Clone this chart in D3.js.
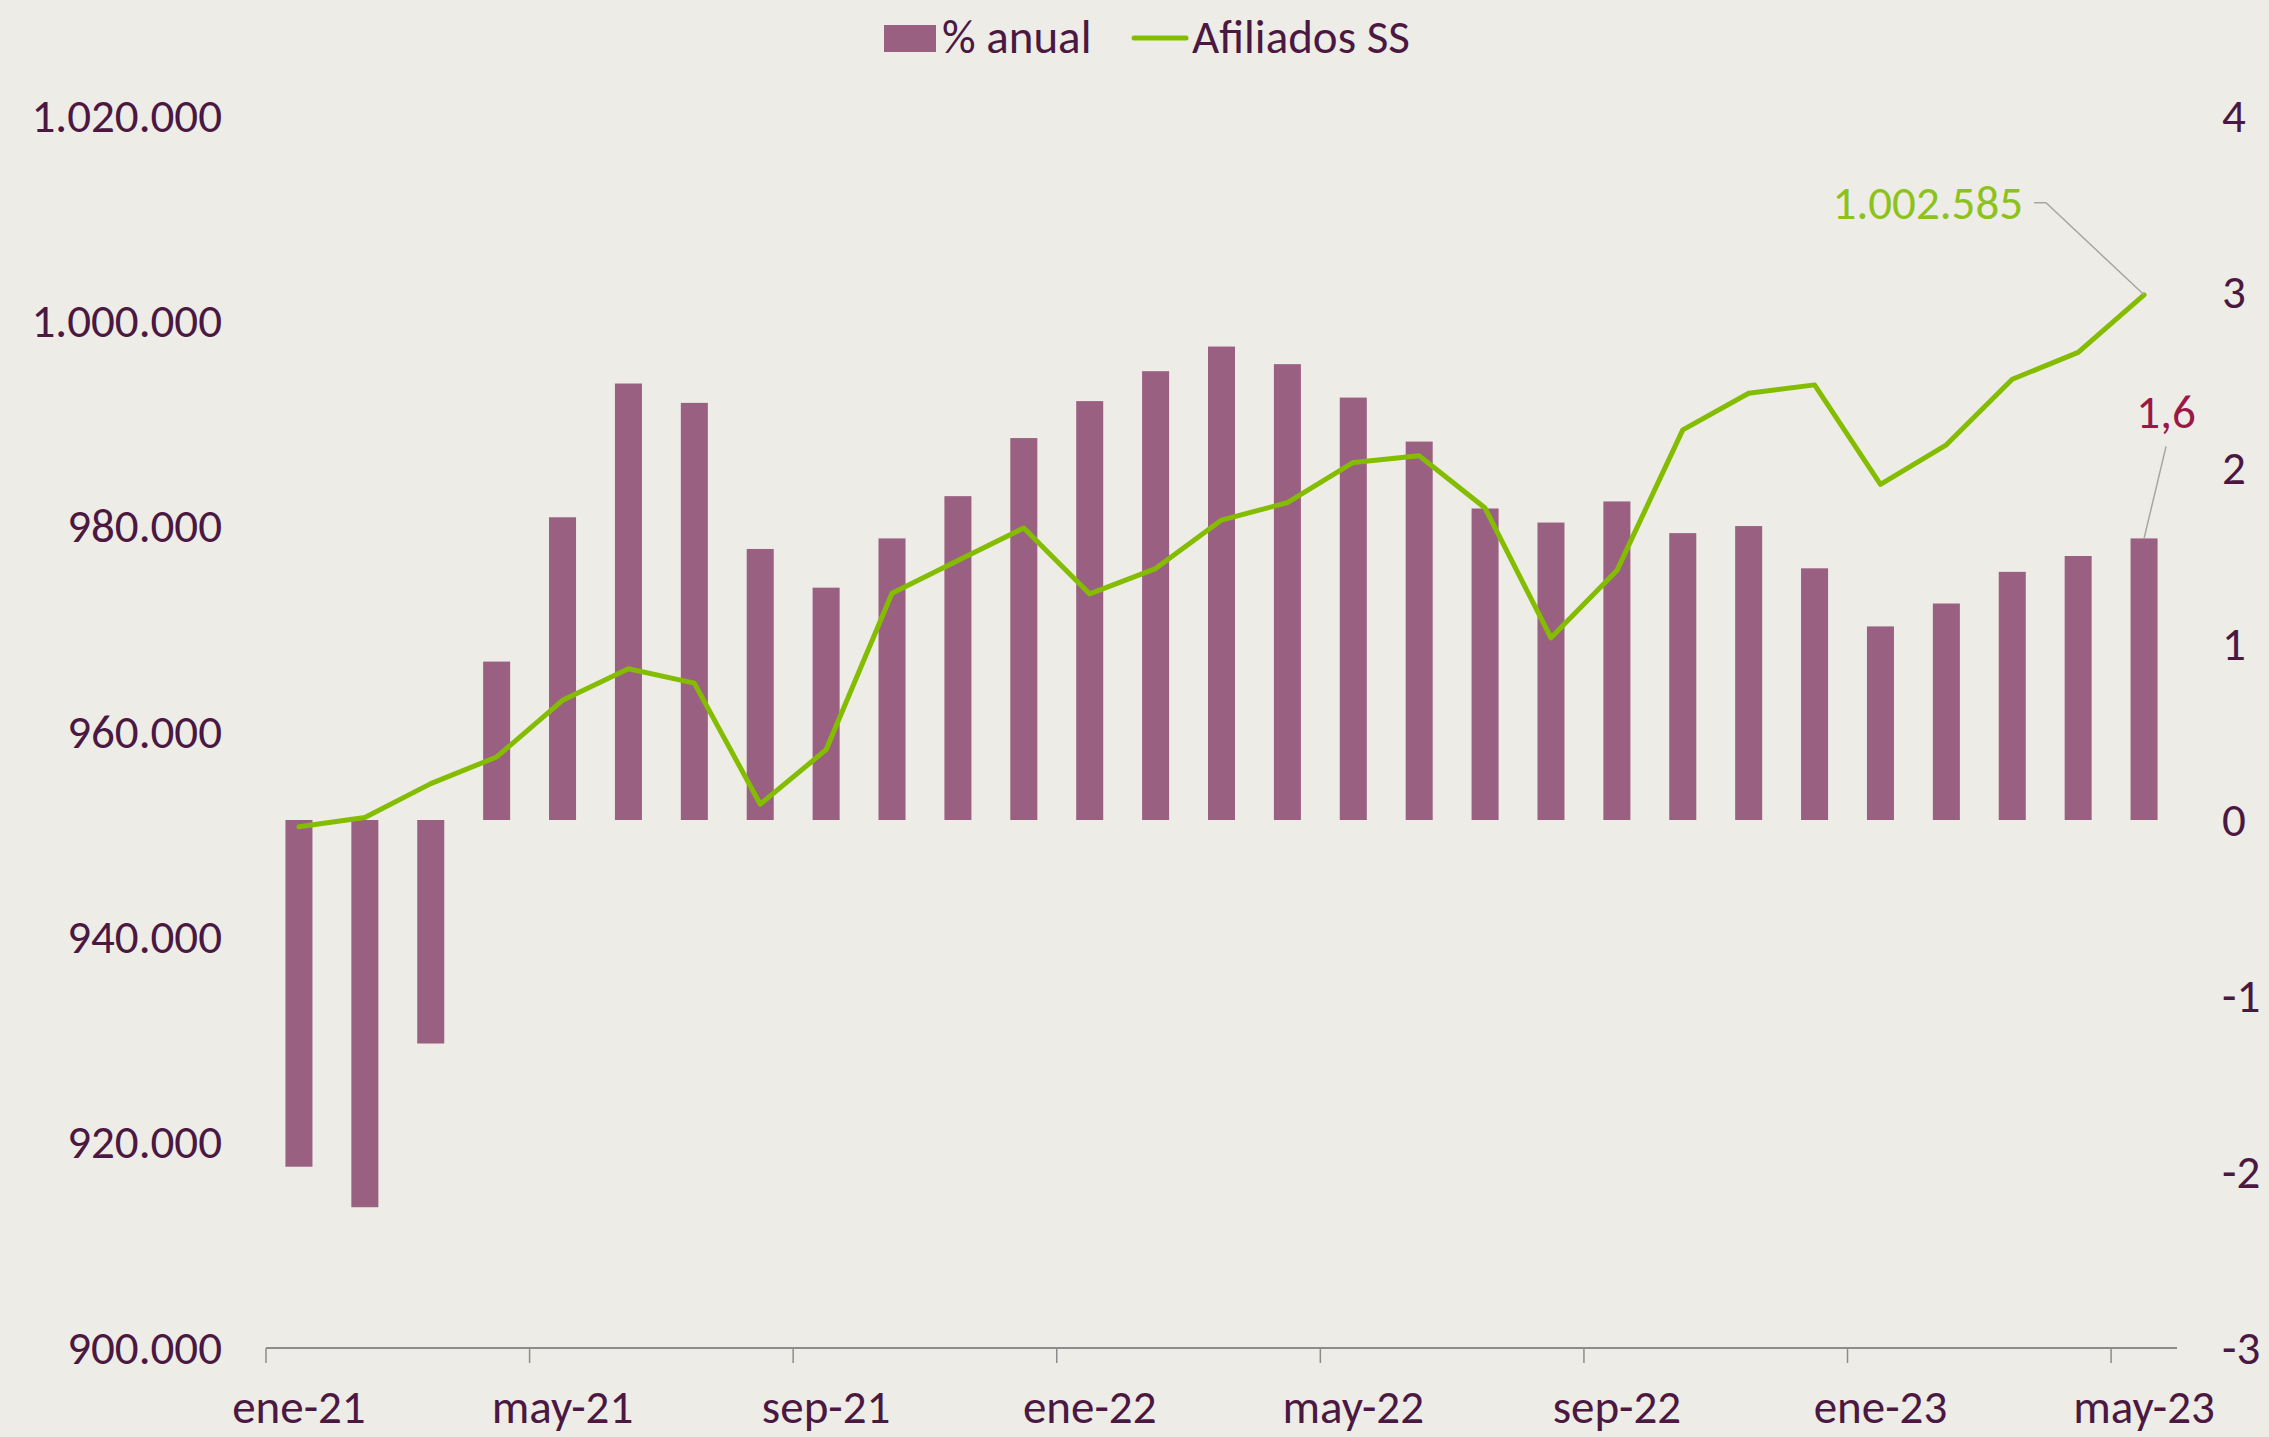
<!DOCTYPE html>
<html lang="es">
<head>
<meta charset="utf-8">
<title>Afiliados SS y % anual</title>
<script src="https://cdn.jsdelivr.net/npm/d3@7/dist/d3.min.js"></script>
<style>
  html, body { margin: 0; padding: 0; background: #EDECE7; }
  svg { display: block; }
  text { font-family: Carlito, Calibri, Lato, "Noto Sans", sans-serif; }
</style>
</head>
<body>
<svg id="chart" width="2269" height="1437"></svg>
<script>
// Meses: enero 2021 – mayo 2023
const categories = [
  "ene-21","feb-21","mar-21","abr-21","may-21","jun-21","jul-21","ago-21","sep-21","oct-21","nov-21","dic-21",
  "ene-22","feb-22","mar-22","abr-22","may-22","jun-22","jul-22","ago-22","sep-22","oct-22","nov-22","dic-22",
  "ene-23","feb-23","mar-23","abr-23","may-23"
];

// Variación anual de afiliados (%), eje derecho
const pctAnual = [
  -1.97, -2.2, -1.27, 0.9, 1.72, 2.48, 2.37, 1.54, 1.32, 1.6, 1.84, 2.17,
  2.38, 2.55, 2.69, 2.59, 2.4, 2.15, 1.77, 1.69, 1.81, 1.63, 1.67, 1.43,
  1.1, 1.23, 1.41, 1.5, 1.6
];

// Afiliados a la Seguridad Social, eje izquierdo
const afiliados = [
  950762, 951669, 954971, 957569, 963083, 966156, 964765, 952969, 958279, 973517, 976697, 979867,
  973449, 975917, 980645, 982335, 986256, 986907, 981812, 969170, 975722, 989433, 992996, 993810,
  984120, 987976, 994355, 996982, 1002585
];

const leftTicks = [900000, 920000, 940000, 960000, 980000, 1000000, 1020000];
const rightTicks = [-3, -2, -1, 0, 1, 2, 3, 4];
const xLabelEvery = 4;

const legendItems = ["% anual", "Afiliados SS"];

// Estilos
const C = {
  bg: "#EDECE7",
  bar: "#9A6081",
  line: "#84BD00",
  text: "#4B1841",
  axis: "#8C8C8C",
  leader: "#A6A6A6",
  barLabel: "#9B1846",
  lineLabel: "#8CC21A"
};
const FONT = 47;

const svg = d3.select("#chart");
svg.append("rect").attr("width", 2269).attr("height", 1437).attr("fill", C.bg);

const plot = { left: 266, right: 2177, top: 116, bottom: 1348 };

const x = d3.scaleBand()
  .domain(categories)
  .range([plot.left, plot.right])
  .paddingInner(0.59)
  .paddingOuter(0.295);

const yL = d3.scaleLinear().domain([900000, 1020000]).range([plot.bottom, plot.top]);
const yR = d3.scaleLinear().domain([-3, 4]).range([plot.bottom, plot.top]);

const esLocale = d3.formatLocale({
  decimal: ",", thousands: ".", grouping: [3], currency: ["", " €"], minus: "-"
});
const fmtThousands = esLocale.format(",.0f");
const fmtInt = esLocale.format(".0f");
const fmtPct = esLocale.format(".1f");

// Eje izquierdo
const gL = svg.append("g")
  .attr("transform", `translate(${plot.left},0)`)
  .call(d3.axisLeft(yL).tickValues(leftTicks).tickFormat(fmtThousands).tickSize(0).tickPadding(44));
gL.select(".domain").remove();
gL.selectAll("text")
  .attr("fill", C.text).style("font-size", FONT + "px")
  .style("font-family", "Carlito, Calibri, Lato, sans-serif");

// Eje derecho
const gR = svg.append("g")
  .attr("transform", `translate(${plot.right},0)`)
  .call(d3.axisRight(yR).tickValues(rightTicks).tickFormat(fmtInt).tickSize(0).tickPadding(45));
gR.select(".domain").remove();
gR.selectAll("text")
  .attr("fill", C.text).style("font-size", FONT + "px")
  .style("font-family", "Carlito, Calibri, Lato, sans-serif");

// Barras de % anual
svg.append("g").selectAll("rect")
  .data(categories)
  .join("rect")
  .attr("x", d => x(d))
  .attr("width", x.bandwidth())
  .attr("y", (d, i) => Math.min(yR(pctAnual[i]), yR(0)))
  .attr("height", (d, i) => Math.abs(yR(pctAnual[i]) - yR(0)))
  .attr("fill", C.bar);

// Eje de categorías (sobre el valor mínimo de ambos ejes)
const gX = svg.append("g");
gX.append("line")
  .attr("x1", plot.left).attr("x2", plot.right)
  .attr("y1", plot.bottom).attr("y2", plot.bottom)
  .attr("stroke", C.axis).attr("stroke-width", 2);

const step = x.step();
const edge = d => x(d) - step * x.paddingInner() / 2;
const tickCats = categories.filter((d, i) => i % xLabelEvery === 0);

gX.selectAll("line.tick")
  .data(tickCats)
  .join("line")
  .attr("class", "tick")
  .attr("x1", d => edge(d)).attr("x2", d => edge(d))
  .attr("y1", plot.bottom).attr("y2", plot.bottom + 15)
  .attr("stroke", C.axis).attr("stroke-width", 1.5);

gX.selectAll("text")
  .data(tickCats)
  .join("text")
  .attr("x", d => x(d) + x.bandwidth() / 2)
  .attr("y", plot.bottom + 75)
  .attr("text-anchor", "middle")
  .attr("fill", C.text)
  .style("font-size", FONT + "px")
  .text(d => d);

// Línea de afiliados
const line = d3.line()
  .x((d, i) => x(categories[i]) + x.bandwidth() / 2)
  .y(d => yL(d));

svg.append("path")
  .datum(afiliados)
  .attr("d", line)
  .attr("fill", "none")
  .attr("stroke", C.line)
  .attr("stroke-width", 5)
  .attr("stroke-linejoin", "round")
  .attr("stroke-linecap", "round");

// Etiquetas del último dato
const last = categories.length - 1;
const lx = x(categories[last]) + x.bandwidth() / 2;
const ly = yL(afiliados[last]);
svg.append("polyline")
  .attr("points", [[lx - 110, ly - 92], [lx - 98, ly - 92], [lx, ly]].map(p => p.join(",")).join(" "))
  .attr("fill", "none").attr("stroke", C.leader).attr("stroke-width", 1.5);
svg.append("text")
  .attr("x", lx - 121).attr("y", ly - 76)
  .attr("text-anchor", "end")
  .attr("fill", C.lineLabel)
  .style("font-size", FONT + "px")
  .text(fmtThousands(afiliados[last]));

const by = yR(pctAnual[last]);
svg.append("line")
  .attr("x1", lx + 22).attr("y1", by - 92)
  .attr("x2", lx).attr("y2", by)
  .attr("stroke", C.leader).attr("stroke-width", 1.5);
svg.append("text")
  .attr("x", lx + 22).attr("y", by - 110)
  .attr("text-anchor", "middle")
  .attr("fill", C.barLabel)
  .style("font-size", FONT + "px")
  .text(fmtPct(pctAnual[last]));

// Leyenda
const leg = svg.append("g");
leg.append("rect")
  .attr("x", 884).attr("y", 25).attr("width", 52).attr("height", 27)
  .attr("fill", C.bar);
leg.append("text")
  .attr("x", 942).attr("y", 53)
  .attr("fill", C.text).style("font-size", FONT + "px")
  .text(legendItems[0]);
leg.append("line")
  .attr("x1", 1134).attr("x2", 1186).attr("y1", 38).attr("y2", 38)
  .attr("stroke", C.line).attr("stroke-width", 5).attr("stroke-linecap", "round");
leg.append("text")
  .attr("x", 1192).attr("y", 53)
  .attr("fill", C.text).style("font-size", FONT + "px")
  .text(legendItems[1]);
</script>
</body>
</html>
